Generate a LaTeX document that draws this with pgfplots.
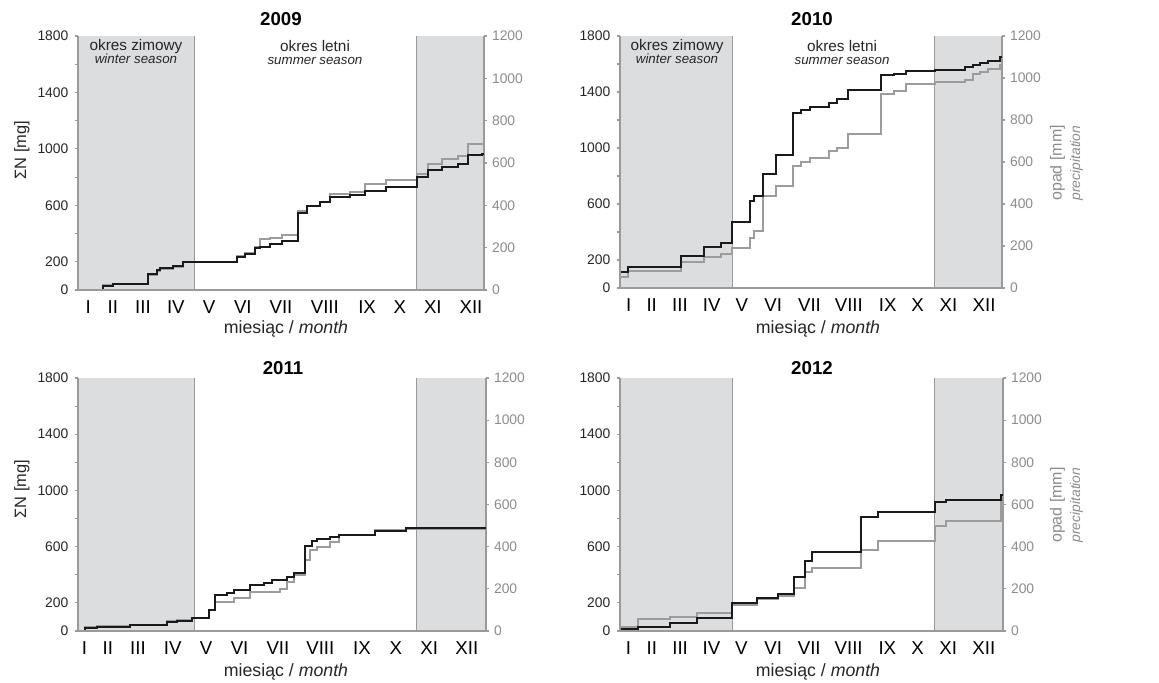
\documentclass[border=0pt]{standalone}
\usepackage{fontspec}
\setmainfont{Liberation Sans}
\usepackage{pgfplots}
\pgfplotsset{compat=1.18}
\definecolor{wintergray}{HTML}{DCDDDF}
\definecolor{axgray}{HTML}{9A9A9A}
\definecolor{linegray}{HTML}{9C9C9C}
\definecolor{lineblack}{HTML}{1A1A1A}
\definecolor{labgray}{HTML}{8C8C8C}
\definecolor{tickblack}{HTML}{262626}
\pgfplotsset{
  base/.style={scale only axis, xmin=0, xmax=100, axis on top,
    /pgf/number format/assume math mode=true,
    /pgf/number format/1000 sep={},
    scaled y ticks=false,
    tick align=outside, major tick length=2.5pt, minor tick length=2.5pt,
    axis line style={axgray, line width=0.9pt},
    every tick/.style={axgray, line width=0.8pt}},
  leftax/.style={base, ymin=0, ymax=1800, axis y line*=left, axis x line*=bottom,
    ytick={0,200,600,1000,1400,1800}, minor ytick={400,800,1200,1600},
    yticklabel style={font=\fontsize{10.4}{12}\selectfont, text=tickblack, xshift=-1.2pt},
    major x tick style={draw=none},
    xticklabel style={font=\fontsize{14}{16}\selectfont, text=black, anchor=base, yshift=-15pt}},
  rightax/.style={base, ymin=0, ymax=1200, axis y line*=right, axis x line=none,
    ytick={0,200,400,600,800,1000,1200},
    yticklabel style={font=\fontsize{10.4}{12}\selectfont, text=labgray}},
  bl/.style={lineblack, line width=1.5pt, const plot, mark=none},
  gl/.style={linegray, line width=1.5pt, const plot, mark=none},
}
\newcommand{\seasons}[2]{%
  \fill[wintergray] (rel axis cs:0,0) rectangle (rel axis cs:#1,1);
  \fill[wintergray] (rel axis cs:#2,0) rectangle (rel axis cs:1,1);
  \draw[axgray, line width=0.9pt] (rel axis cs:#1,0) -- (rel axis cs:#1,1);
  \draw[axgray, line width=0.9pt] (rel axis cs:#2,0) -- (rel axis cs:#2,1);
}
\newcommand{\titlefont}{\bfseries\fontsize{14}{16}\selectfont}
\newcommand{\midfont}{\fontsize{11.5}{13}\selectfont}
\newcommand{\smallit}{\itshape\fontsize{10}{12}\selectfont}
\newcommand{\labfont}{\fontsize{13.3}{15}\selectfont}
\begin{document}
\begin{tikzpicture}[x=0.75pt,y=0.75pt]
\path[use as bounding box] (0,0) rectangle (1159,682);

% ---------------- 2009 ----------------
\begin{axis}[rightax, at={(58.5pt,294pt)}, anchor=south west, width=304.5pt, height=190.5pt]
\seasons{0.286}{0.833}
\addplot[gl] coordinates {(0,0) (6.2,24) (8.7,28) (17.3,71) (19.4,90) (20.2,98) (23.5,107) (25.9,134) (39.1,162) (41.1,173) (43.6,201) (44.8,241) (47.3,248) (50.2,258) (54.1,371) (56.3,399) (59.6,418) (62.1,454) (67.0,462) (70.7,500) (75.8,519) (83.4,548) (86.3,597) (89.6,618) (93.7,634) (96.0,689) (100,689)};
\end{axis}
\begin{axis}[leftax, at={(58.5pt,294pt)}, anchor=south west, width=304.5pt, height=190.5pt,
  xtick={2.5,8.6,16.0,24.1,32.3,40.6,50.0,60.8,71.2,79.3,87.4,96.8},
  xticklabels={I,II,III,IV,V,VI,VII,VIII,IX,X,XI,XII}]
\addplot[bl] coordinates {(0,0) (6.2,28) (8.7,40) (17.3,113) (19.4,142) (20.2,153) (23.5,172) (25.9,200) (39.1,236) (41.1,252) (43.6,295) (44.8,307) (47.3,323) (50.2,350) (54.1,548) (56.3,595) (59.6,622) (62.1,662) (67.0,672) (70.7,704) (75.8,731) (83.4,802) (86.3,847) (89.6,873) (93.7,896) (96.0,955) (99.5,967) (100,967)};
\end{axis}

% ---------------- 2010 ----------------
\begin{axis}[rightax, at={(465pt,295.5pt)}, anchor=south west, width=286.5pt, height=189pt]
\seasons{0.294}{0.823}
\addplot[gl] coordinates {(0,54) (2.2,79) (15.9,122) (22.0,146) (26.4,162) (29.4,189) (34.0,238) (35.2,270) (37.5,440) (40.9,488) (45.2,583) (47.4,599) (49.7,620) (54.8,651) (56.8,666) (59.7,734) (68.4,925) (71.8,938) (74.9,973) (82.4,980) (90.4,989) (92.4,1017) (94.2,1028) (96.3,1044) (99.4,1060) (100,1060)};
\end{axis}
\begin{axis}[leftax, at={(465pt,295.5pt)}, anchor=south west, width=286.5pt, height=189pt,
  xtick={2.3,8.3,15.7,24.0,31.9,40.1,49.6,59.9,70.1,77.9,86.0,95.3},
  xticklabels={I,II,III,IV,V,VI,VII,VIII,IX,X,XI,XII}]
\addplot[bl] coordinates {(0,112) (2.2,148) (15.9,227) (22.0,291) (26.4,324) (29.4,470) (34.0,624) (35.0,660) (37.5,815) (40.9,951) (45.2,1249) (47.4,1268) (49.7,1292) (54.8,1323) (56.8,1347) (59.7,1411) (68.4,1519) (71.8,1531) (74.9,1547) (82.4,1560) (90.4,1578) (92.4,1595) (94.2,1605) (96.3,1620) (99.4,1650) (100,1650)};
\end{axis}

% ---------------- 2011 ----------------
\begin{axis}[rightax, at={(58.5pt,38.25pt)}, anchor=south west, width=306pt, height=189.75pt]
\seasons{0.286}{0.829}
\addplot[gl] coordinates {(0,0) (1.8,17) (4.7,24) (12.8,28) (21.8,47) (24.3,52) (27.9,63) (32.0,99) (33.7,136) (38.2,155) (42.2,186) (49.6,197) (51.2,234) (52.9,265) (55.7,336) (56.9,384) (58.6,400) (61.8,423) (63.9,455) (72.9,479) (80.5,486) (100,486)};
\end{axis}
\begin{axis}[leftax, at={(58.5pt,38.25pt)}, anchor=south west, width=306pt, height=189.75pt,
  xtick={1.6,7.3,14.7,23.2,31.4,39.6,49.0,59.4,69.6,77.9,86.1,95.3},
  xticklabels={I,II,III,IV,V,VI,VII,VIII,IX,X,XI,XII}]
\addplot[bl] coordinates {(0,0) (1.8,19) (4.7,31) (12.8,43) (21.8,66) (24.3,73) (27.9,90) (28.7,95) (32.0,149) (33.7,256) (36.5,268) (38.2,291) (42.2,327) (45.5,343) (47.5,362) (51.2,381) (52.9,410) (55.7,606) (57.4,642) (58.6,654) (61.8,670) (63.9,682) (72.9,711) (80.5,730) (100,730)};
\end{axis}

% ---------------- 2012 ----------------
\begin{axis}[rightax, at={(465pt,38.25pt)}, anchor=south west, width=287.25pt, height=189.75pt]
\seasons{0.293}{0.821}
\addplot[gl] coordinates {(0,20) (4.8,55) (13.0,65) (20.0,87) (29.3,123) (35.7,150) (41.3,166) (45.5,202) (48.3,278) (50.2,300) (63.0,384) (67.4,426) (82.2,497) (85.2,521) (99.6,610) (100,610)};
\end{axis}
\begin{axis}[leftax, at={(465pt,38.25pt)}, anchor=south west, width=287.25pt, height=189.75pt,
  xtick={2.2,8.3,15.7,23.9,31.7,40.0,49.4,59.7,69.8,77.7,85.7,95.0},
  xticklabels={I,II,III,IV,V,VI,VII,VIII,IX,X,XI,XII}]
\addplot[bl] coordinates {(0,12) (4.8,26) (13.0,54) (20.0,95) (29.3,197) (35.7,237) (41.3,263) (45.5,386) (48.3,500) (50.2,559) (63.0,810) (67.4,845) (82.2,915) (85.2,930) (99.6,965) (100,965)};
\end{axis}

% ---------------- texts ----------------
\node[anchor=base, font=\titlefont] at (281,656) {2009};
\node[anchor=base, font=\titlefont] at (812,656) {2010};
\node[anchor=base, font=\titlefont] at (283,307) {2011};
\node[anchor=base, font=\titlefont] at (812,307) {2012};

\node[anchor=base, font=\midfont, text=tickblack] at (136,631) {okres zimowy};
\node[anchor=base, font=\smallit, text=tickblack] at (136,618) {winter season};
\node[anchor=base, font=\midfont, text=tickblack] at (315,630.3) {okres letni};
\node[anchor=base, font=\smallit, text=tickblack] at (315,617.7) {summer season};
\node[anchor=base, font=\midfont, text=tickblack] at (677,631) {okres zimowy};
\node[anchor=base, font=\smallit, text=tickblack] at (677,618) {winter season};
\node[anchor=base, font=\midfont, text=tickblack] at (842,630.3) {okres letni};
\node[anchor=base, font=\smallit, text=tickblack] at (842,617.7) {summer season};

\node[anchor=base, font=\labfont, text=tickblack] at (286,348.7) {miesiąc / \textit{month}};
\node[anchor=base, font=\labfont, text=tickblack] at (818,348.7) {miesiąc / \textit{month}};
\node[anchor=base, font=\labfont, text=tickblack] at (286,6) {miesiąc / \textit{month}};
\node[anchor=base, font=\labfont, text=tickblack] at (818,6) {miesiąc / \textit{month}};

\node[rotate=90, font=\fontsize{12.3}{14}\selectfont, text=tickblack] at (22,532) {ΣN [mg]};
\node[rotate=90, font=\fontsize{12.3}{14}\selectfont, text=tickblack] at (22,193) {ΣN [mg]};

\node[rotate=90, font=\fontsize{12}{14}\selectfont, text=labgray] at (1057.5,519) {opad [mm]};
\node[rotate=90, font=\itshape\fontsize{10.4}{12}\selectfont, text=labgray] at (1076.5,519) {precipitation};
\node[rotate=90, font=\fontsize{12}{14}\selectfont, text=labgray] at (1057.5,177) {opad [mm]};
\node[rotate=90, font=\itshape\fontsize{10.4}{12}\selectfont, text=labgray] at (1076.5,177) {precipitation};
\end{tikzpicture}
\end{document}
